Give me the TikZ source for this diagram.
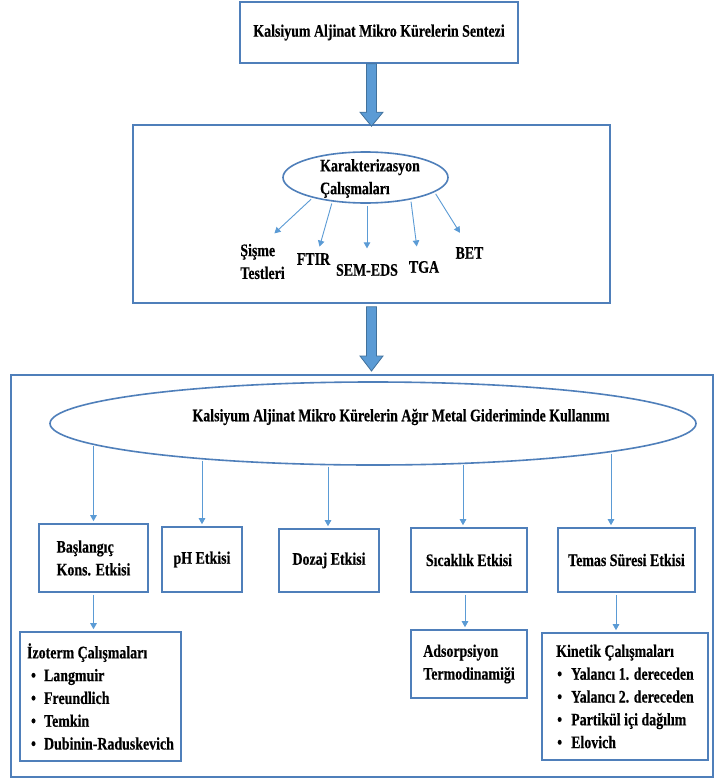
\documentclass[tikz,border=0pt]{standalone}
\usepackage{fontspec}
\setmainfont{Liberation Serif}[FakeStretch=0.79,FakeBold=0.4]
\usetikzlibrary{shapes.geometric,arrows.meta,calc}
\definecolor{boxc}{HTML}{4F7FBA}
\definecolor{arrc}{HTML}{5B9BD5}
\definecolor{fatd}{HTML}{41719C}
\newcommand\txtfont{\fontsize{17.6}{22.8}\selectfont\bfseries}
\newcommand\blt[2]{\hspace*{#1}\makebox[#2][l]{\textbullet}}
\newcommand\dropline[2]{%
  \draw[thinarr] let \p1=(e2.center), \p2=([xshift=#1]#2.north),
    \n1={41.5*sqrt(1-((\x2-\x1)/323)^2)} in
    ({\x2},{\y1-\n1*1pt}) -- (\p2);}
\begin{document}
\begin{tikzpicture}[x=1pt,y=-1pt,
  box/.style={draw=boxc,line width=1.6pt,inner sep=0pt,align=left,font=\txtfont},
  oval/.style={ellipse,draw=boxc,line width=1.6pt,inner sep=0pt},
  lbl/.style={inner sep=0pt,align=left,font=\txtfont},
  thinarr/.style={draw=arrc,line width=0.9pt,shorten <=2pt,shorten >=2pt,
    -{Triangle[length=6pt,width=6.5pt]}},
  fat/.style={fill=arrc,draw=fatd,line width=0.8pt}]
\path[use as bounding box] (0,0) rectangle (715,779);
\fill[white] (0,0) rectangle (715,779);

% top box
\node[box,minimum width=278pt,minimum height=61pt] (top) at (379,32.5)
  {Kalsiyum Aljinat Mikro Kürelerin Sentezi};
% characterisation container
\node[box,minimum width=477pt,minimum height=178pt] (kar) at (371.5,214) {};
% usage container
\node[box,line width=2pt,minimum width=702pt,minimum height=402pt] (use) at (362,576) {};

% fat arrows
\filldraw[fat] let \p1=(top.south), \p2=(kar.north) in
  (\x2-5pt,\y1) -- (\x2+5pt,\y1) -- (\x2+5pt,\y2+12pt) -- (\x2+11.5pt,\y2+12pt)
  -- (\x2,\y2-2pt) -- (\x2-11.5pt,\y2+12pt) -- (\x2-5pt,\y2+12pt) -- cycle;
\filldraw[fat] let \p1=(kar.south), \p2=(use.north) in
  (\x1-5pt,\y1-3pt) -- (\x1+5pt,\y1-3pt) -- (\x1+5pt,\y2+18pt) -- (\x1+11.5pt,\y2+18pt)
  -- (\x1,\y2+3pt) -- (\x1-11.5pt,\y2+18pt) -- (\x1-5pt,\y2+18pt) -- cycle;

% characterisation ellipse
\node[oval,minimum width=165pt,minimum height=51pt] (e1) at (365.5,177.5) {};
\node[lbl] (e1t) at (370,178.5) {Karakterizasyon\\Çalışmaları};

\node[lbl] (sis) at (262.5,261.5) {Şişme\\Testleri};
\node[lbl] (ftir) at (313.5,259) {FTIR};
\node[lbl] (sem) at (367,270) {SEM-EDS};
\node[lbl] (tga) at (424,267) {TGA};
\node[lbl] (bet) at (469.5,253) {BET};

\draw[thinarr] (e1.201) -- ([shift={(10.5,-9)}]sis.north);
\draw[thinarr] (e1.216) -- ([shift={(5.5,-4.5)}]ftir.north);
\draw[thinarr] (e1.south -| sem.north) -- ([shift={(0,-13.5)}]sem.north);
\draw[thinarr] (e1.334) -- ([shift={(-7,-12.5)}]tga.north);
\draw[thinarr] (e1.348) -- ([shift={(-8.5,-12.5)}]bet.north);

% usage ellipse
\node[oval,minimum width=646pt,minimum height=83pt] (e2) at (373,423.5) {};
\node[lbl] (e2t) at (401,417)
  {Kalsiyum Aljinat Mikro Kürelerin Ağır Metal Gideriminde Kullanımı};

% effect boxes
\node[box,minimum width=109pt,minimum height=68pt] (bas) at (93.5,558) {Başlangıç\\Kons. Etkisi};
\node[box,minimum width=80pt,minimum height=65pt] (ph) at (202,559.5) {pH Etkisi};
\node[box,minimum width=100pt,minimum height=63pt] (doz) at (329,560.5) {Dozaj Etkisi};
\node[box,minimum width=116pt,minimum height=64pt] (sic) at (469,560) {Sıcaklık Etkisi};
\node[box,minimum width=137pt,minimum height=64pt] (tem) at (626.5,560) {Temas Süresi Etkisi};

\dropline{0pt}{bas}
\dropline{0pt}{ph}
\dropline{-1pt}{doz}
\dropline{-6pt}{sic}
\dropline{-15.5pt}{tem}

% result boxes
\node[box,minimum width=161pt,minimum height=129pt] (izo) at (100.5,696.5)
  {İzoterm Çalışmaları\\\blt{4pt}{13pt}Langmuir\\\blt{4pt}{13pt}Freundlich\\\blt{4pt}{13pt}Temkin\\\blt{4pt}{13pt}Dubinin-Raduskevich};
\node[box,minimum width=116pt,minimum height=68pt] (ads) at (469,664)
  {Adsorpsiyon\\Termodinamiği};
\node[box,minimum width=166pt,minimum height=127pt] (kin) at (625,696.5)
  {Kinetik Çalışmaları\\\blt{1pt}{14pt}Yalancı 1. dereceden\\\blt{1pt}{14pt}Yalancı 2. dereceden\\\blt{1pt}{14pt}Partikül içi dağılım\\\blt{1pt}{14pt}Elovich};

\draw[thinarr] (bas.south) -- (bas.south |- izo.north);
\draw[thinarr] ([xshift=-4pt]sic.south) -- ([xshift=-4pt]sic.south |- ads.north);
\draw[thinarr] ([xshift=-10.5pt]tem.south) -- ([xshift=-10.5pt]tem.south |- kin.north);
\end{tikzpicture}
\end{document}
